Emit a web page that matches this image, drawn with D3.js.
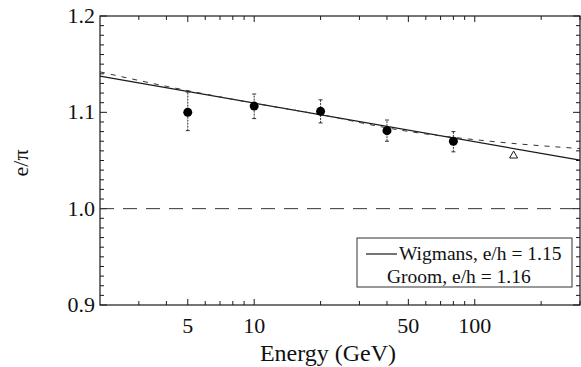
<!DOCTYPE html>
<html lang="en"><head><meta charset="utf-8">
<script src="https://cdn.jsdelivr.net/npm/d3@7"></script>
<style>body{margin:0;background:#fff}svg{display:block}svg text{font-family:"Liberation Serif","DejaVu Serif" !important}</style>
</head><body><svg id="c" width="581" height="367"></svg>
<script>
const energies = [5, 10, 20, 40, 80];
const ratios = [1.100, 1.1065, 1.101, 1.081, 1.070];
const errLow = [1.081, 1.0935, 1.089, 1.070, 1.059];
const errHigh = [1.121, 1.119, 1.113, 1.092, 1.080];
const triE = [150];
const triR = [1.055];
const wigmansE = [2, 300];
const wigmansR = [1.1376, 1.0503];
const groomE = [2, 4, 10, 20, 46, 130, 300];
const groomR = [1.142, 1.127, 1.1095, 1.0975, 1.0815, 1.069, 1.0624];
const xTickLabels = [5, 10, 50, 100];
const yTickLabels = [0.9, 1.0, 1.1, 1.2];
const legendLabels = ["Wigmans, e/h = 1.15", "Groom, e/h = 1.16"];

const svg = d3.select("#c");
const L = 100, R = 580, T = 16, B = 305;
const x = d3.scaleLog().domain([2, 300]).range([L, R]);
const y = d3.scaleLinear().domain([0.9, 1.2]).range([B, T]);
const ink = "#1a1a1a";
const txt = "#111";

function label(px, py, s, size, anchor) {
  return svg.append("text").attr("x", px).attr("y", py)
    .style("font-family", '"Liberation Serif"').style("font-size", size + "px")
    .attr("text-anchor", anchor || "start").attr("fill", txt).text(s);
}

// frame
svg.append("rect").attr("x", L).attr("y", T).attr("width", R - L).attr("height", B - T)
  .attr("fill", "none").attr("stroke", ink).attr("stroke-width", 1.2);

// y ticks
const yMinor = d3.range(90, 121).map(v => v / 100);
yMinor.forEach(v => {
  const major = Math.abs(v * 10 - Math.round(v * 10)) < 1e-6;
  const len = major ? 7 : 4;
  svg.append("line").attr("x1", L).attr("x2", L + len).attr("y1", y(v)).attr("y2", y(v)).attr("stroke", ink);
  svg.append("line").attr("x1", R).attr("x2", R - len).attr("y1", y(v)).attr("y2", y(v)).attr("stroke", ink);
});
yTickLabels.forEach(d => label(95, y(d) + 7, d.toFixed(1), 22, "end"));

// x ticks
const xMinor = [3,4,5,6,7,8,9,10,20,30,40,50,60,70,80,90,100,200,300];
xMinor.forEach(v => {
  const major = xTickLabels.includes(v);
  const len = major ? 6 : 4;
  svg.append("line").attr("x1", x(v)).attr("x2", x(v)).attr("y1", B).attr("y2", B - len).attr("stroke", ink);
  svg.append("line").attr("x1", x(v)).attr("x2", x(v)).attr("y1", T).attr("y2", T + len).attr("stroke", ink);
});
xTickLabels.forEach(d => label(x(d), 333, String(d), 22, "middle"));

// axis titles
label(328, 361, "Energy (GeV)", 24, "middle");
label(0, 0, "e/π", 22, "middle").attr("transform", "translate(28,163) rotate(-90)");

// reference line at 1.0
svg.append("line").attr("x1", L).attr("x2", R).attr("y1", y(1.0)).attr("y2", y(1.0))
  .attr("stroke", "#333").attr("stroke-width", 1).attr("stroke-dasharray", "14,9");

// curves
const line = d3.line().x(d => x(d[0])).y(d => y(d[1])).curve(d3.curveMonotoneX);
svg.append("path").attr("d", line(wigmansE.map((e, i) => [e, wigmansR[i]])))
  .attr("fill", "none").attr("stroke", ink).attr("stroke-width", 1.2);
svg.append("path").attr("d", line(groomE.map((e, i) => [e, groomR[i]])))
  .attr("fill", "none").attr("stroke", "#333").attr("stroke-width", 1).attr("stroke-dasharray", "5,6");

// error bars
energies.forEach((e, i) => {
  const cx = x(e);
  svg.append("line").attr("x1", cx).attr("x2", cx).attr("y1", y(errLow[i])).attr("y2", y(errHigh[i]))
    .attr("stroke", "#333").attr("stroke-width", 1).attr("stroke-dasharray", "2,1");
  [errLow[i], errHigh[i]].forEach(v => svg.append("line").attr("x1", cx - 2).attr("x2", cx + 2)
    .attr("y1", y(v)).attr("y2", y(v)).attr("stroke", "#333"));
});
svg.selectAll(".pt").data(energies).join("circle")
  .attr("cx", d => x(d)).attr("cy", (d, i) => y(ratios[i])).attr("r", 4.5).attr("fill", "#000");

// triangle
const tri = d3.symbol().type(d3.symbolTriangle).size(28);
svg.selectAll(".tri").data(triE).join("path")
  .attr("d", tri).attr("transform", (d, i) => `translate(${x(d)},${y(triR[i])})`)
  .attr("fill", "#fff").attr("stroke", ink).attr("stroke-width", 1);

// legend
svg.append("rect").attr("x", 357).attr("y", 238).attr("width", 215).attr("height", 49)
  .attr("fill", "#fff").attr("stroke", "#333").attr("stroke-width", 1);
svg.append("line").attr("x1", 366).attr("x2", 397).attr("y1", 254).attr("y2", 254).attr("stroke", ink).attr("stroke-width", 1.2);
label(399, 260, legendLabels[0], 19.5);
label(387, 283, legendLabels[1], 19.5);
</script></body></html>
